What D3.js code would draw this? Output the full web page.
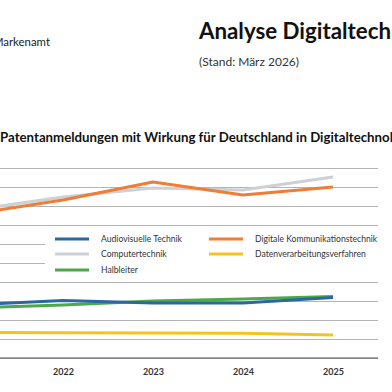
<!DOCTYPE html>
<html>
<head>
<meta charset="utf-8">
<script src="https://cdn.jsdelivr.net/npm/d3@7"></script>
<style>
  body { margin: 0; background: #fff; }
  svg { display: block; font-family: Lato, "Open Sans", sans-serif; }
</style>
</head>
<body>
<div id="chart"></div>
<script>
let width = 392, height = 392;

// data (values per year)
let years = ['2021', '2022', '2023', '2024', '2025'];
let seriesNames = ['Audiovisuelle Technik', 'Digitale Kommunikationstechnik', 'Computertechnik', 'Datenverarbeitungsverfahren', 'Halbleiter'];
let audiovisuell = [2790, 3030, 2890, 2890, 3180];
let kommunikation = [7580, 8320, 9260, 8580, 9000];
let computer = [7790, 8470, 8950, 8840, 9530];
let datenverarbeitung = [1340, 1330, 1320, 1300, 1210];
let halbleiter = [2630, 2790, 3000, 3110, 3240];
let yTicks = [0, 1000, 2000, 3000, 4000, 5000, 6000, 7000, 8000, 9000, 10000];

let colors = ['#2b68a3', '#f07c35', '#cdd0d5', '#f5c419', '#4ea84a'];
let allValues = [audiovisuell, kommunikation, computer, datenverarbeitung, halbleiter];
// draw order: grey & orange at the back
let drawOrder = [2, 1, 3, 4, 0];

let svg = d3.select('#chart')
    .append('svg')
    .attr('width', width)
    .attr('height', height);

// plot area extends past the left edge of the view (cropped page)
let plotLeft = -72, plotRight = 378, plotTop = 168, plotBottom = 358;

let x = d3.scalePoint()
    .domain(years)
    .range([plotLeft, plotRight])
    .padding(0.5);

let y = d3.scaleLinear()
    .domain([0, 10000])
    .range([plotBottom, plotTop]);

// header texts
svg.append('text')
    .attr('x', 50)
    .attr('y', 46)
    .attr('text-anchor', 'end')
    .attr('font-size', 11.4)
    .attr('fill', '#222')
    .text('Deutsches Patent- und Markenamt');

svg.append('text')
    .attr('x', 199)
    .attr('y', 39)
    .attr('font-size', 22.3)
    .attr('font-weight', 'bold')
    .attr('fill', '#111')
    .text('Analyse Digitaltechnologien');

svg.append('text')
    .attr('x', 199)
    .attr('y', 66)
    .attr('font-size', 12)
    .attr('fill', '#333')
    .text('(Stand: März 2026)');

svg.append('text')
    .attr('x', 0)
    .attr('y', 142)
    .attr('font-size', 13.25)
    .attr('font-weight', 'bold')
    .attr('fill', '#111')
    .text('Patentanmeldungen mit Wirkung für Deutschland in Digitaltechnologien');

// gridlines; the value labels sit left of the visible part
let yAxis = svg.append('g')
    .attr('transform', `translate(${plotLeft},0)`)
    .call(d3.axisLeft(y).tickValues(yTicks).tickSize(-(plotRight - plotLeft)).tickFormat(d3.format(',')));
yAxis.select('.domain').remove();
yAxis.selectAll('.tick line').attr('stroke', '#b4b4b4').attr('stroke-width', 1.2);
yAxis.selectAll('.tick text').attr('fill', '#333').attr('font-size', 9);

// baseline
svg.append('line')
    .attr('x1', plotLeft).attr('x2', plotRight)
    .attr('y1', y(0)).attr('y2', y(0))
    .attr('stroke', '#555')
    .attr('stroke-width', 1.2);

// x axis labels
let xAxis = svg.append('g')
    .attr('transform', `translate(0,${plotBottom})`)
    .call(d3.axisBottom(x).tickSize(0).tickPadding(11));
xAxis.select('.domain').remove();
xAxis.selectAll('.tick text')
    .attr('font-size', 9)
    .attr('font-weight', 'bold')
    .attr('fill', '#333')
    .attr('font-family', 'Lato, sans-serif');

// lines
let line = d3.line()
    .x((d, i) => x(years[i]))
    .y(d => y(d));

drawOrder.forEach(k => {
    svg.append('path')
        .datum(allValues[k])
        .attr('fill', 'none')
        .attr('stroke', colors[k])
        .attr('stroke-width', 3)
        .attr('stroke-linejoin', 'round')
        .attr('d', line);
});

// legend box with white background over the gridlines
let legend = svg.append('g');
legend.append('rect')
    .attr('x', 45)
    .attr('y', 232)
    .attr('width', 345)
    .attr('height', 44)
    .attr('fill', '#fff');

let legendPos = [
    [55, 239], [209, 239],
    [55, 254], [209, 254],
    [55, 270]
];
seriesNames.forEach((name, i) => {
    let p = legendPos[i];
    legend.append('line')
        .attr('x1', p[0]).attr('x2', p[0] + 34)
        .attr('y1', p[1]).attr('y2', p[1])
        .attr('stroke', colors[i])
        .attr('stroke-width', 3);
    legend.append('text')
        .attr('x', p[0] + 46)
        .attr('y', p[1])
        .attr('dy', '0.35em')
        .attr('font-size', 8.6)
        .attr('fill', '#333')
        .text(name);
});
</script>
</body>
</html>
